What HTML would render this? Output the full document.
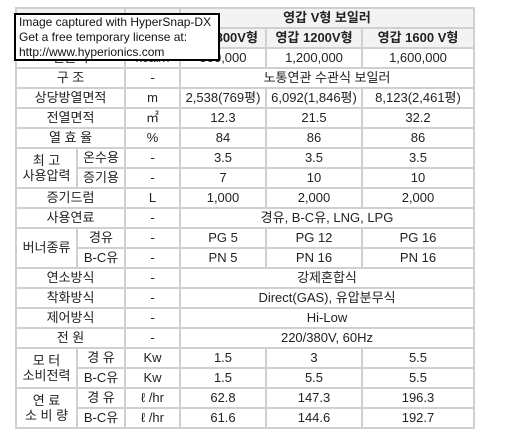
<!DOCTYPE html>
<html><head><meta charset="utf-8"><style>
body{margin:0;width:506px;height:445px;background:#fff;position:relative;overflow:hidden;font-family:"Liberation Sans","Noto Sans CJK KR",sans-serif;}
table{position:absolute;left:15px;top:7px;border-collapse:collapse;table-layout:fixed;border-left:2px solid #8fb08f;border-bottom:2px solid #8fb08f;border-right:2px solid #8fb08f;}
tr{height:20px;}
td{border:2px solid #d0d0d0;height:18px;padding:0;text-align:center;font-size:13px;color:#222;white-space:nowrap;overflow:hidden;line-height:16px;}
.h{font-weight:bold;background:#f3f3f3;}
#ov{position:absolute;left:14px;top:13px;width:199px;height:44px;border:2px solid #000;background:#fff;font-size:12px;line-height:15px;padding:0 0 0 3px;color:#111;}
</style></head><body>
<table>
<colgroup><col style="width:61px"><col style="width:48px"><col style="width:55px"><col style="width:86px"><col style="width:96px"><col style="width:112px"></colgroup>
<tr><td colspan="2" rowspan="2" class="h">구 분</td><td rowspan="2" class="h">단위</td><td colspan="3" class="h">영갑 V형 보일러</td></tr>
<tr><td class="h">영갑 800V형</td><td class="h">영갑 1200V형</td><td class="h">영갑 1600 V형</td></tr>
<tr><td colspan="2">열출력</td><td>kcal/h</td><td>800,000</td><td>1,200,000</td><td>1,600,000</td></tr>
<tr><td colspan="2">구 조</td><td>-</td><td colspan="3">노통연관 수관식 보일러</td></tr>
<tr><td colspan="2">상당방열면적</td><td>m</td><td>2,538(769평)</td><td>6,092(1,846평)</td><td>8,123(2,461평)</td></tr>
<tr><td colspan="2">전열면적</td><td>㎡</td><td>12.3</td><td>21.5</td><td>32.2</td></tr>
<tr><td colspan="2">열 효 율</td><td>%</td><td>84</td><td>86</td><td>86</td></tr>
<tr><td rowspan="2" style="line-height:15px">최 고<br>사용압력</td><td>온수용</td><td>-</td><td>3.5</td><td>3.5</td><td>3.5</td></tr>
<tr><td>증기용</td><td>-</td><td>7</td><td>10</td><td>10</td></tr>
<tr><td colspan="2">증기드럼</td><td>L</td><td>1,000</td><td>2,000</td><td>2,000</td></tr>
<tr><td colspan="2">사용연료</td><td>-</td><td colspan="3">경유, B-C유, LNG, LPG</td></tr>
<tr><td rowspan="2">버너종류</td><td>경유</td><td>-</td><td>PG 5</td><td>PG 12</td><td>PG 16</td></tr>
<tr><td>B-C유</td><td>-</td><td>PN 5</td><td>PN 16</td><td>PN 16</td></tr>
<tr><td colspan="2">연소방식</td><td>-</td><td colspan="3">강제혼합식</td></tr>
<tr><td colspan="2">착화방식</td><td>-</td><td colspan="3">Direct(GAS), 유압분무식</td></tr>
<tr><td colspan="2">제어방식</td><td>-</td><td colspan="3">Hi-Low</td></tr>
<tr><td colspan="2">전 원</td><td>-</td><td colspan="3">220/380V, 60Hz</td></tr>
<tr><td rowspan="2" style="line-height:15px">모 터<br>소비전력</td><td>경 유</td><td>Kw</td><td>1.5</td><td>3</td><td>5.5</td></tr>
<tr><td>B-C유</td><td>Kw</td><td>1.5</td><td>5.5</td><td>5.5</td></tr>
<tr><td rowspan="2" style="line-height:15px">연 료<br>소 비 량</td><td>경 유</td><td>ℓ /hr</td><td>62.8</td><td>147.3</td><td>196.3</td></tr>
<tr><td>B-C유</td><td>ℓ /hr</td><td>61.6</td><td>144.6</td><td>192.7</td></tr>
</table>
<div id="ov">Image captured with HyperSnap-DX<br>Get a free temporary license at:<br>http://www.hyperionics.com</div>
</body></html>
